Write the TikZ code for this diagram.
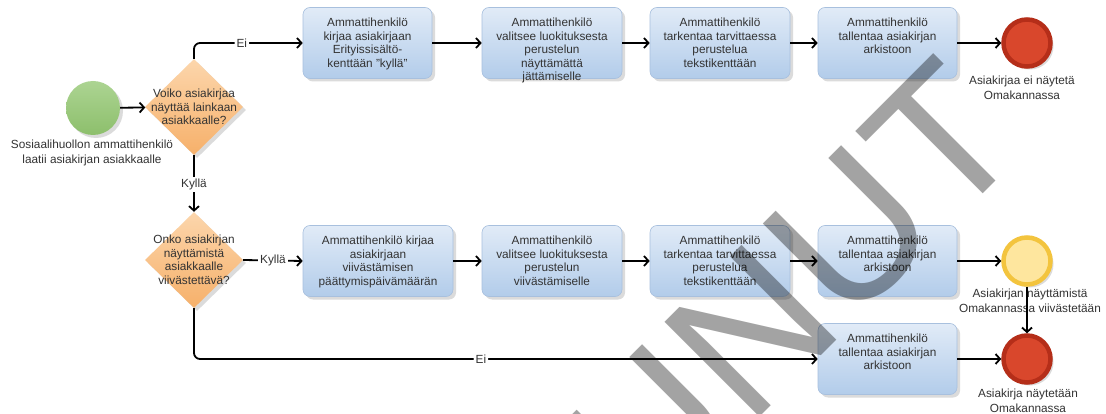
\documentclass[tikz,border=0pt]{standalone}
\usepackage{fontspec}
\setmainfont{Liberation Sans}
\usetikzlibrary{arrows.meta,shapes.geometric,shadows}

\definecolor{taskTop}{HTML}{E1EBF7}
\definecolor{taskBot}{HTML}{B2CCEA}
\definecolor{taskLine}{HTML}{A8C0DE}
\definecolor{gwTop}{HTML}{FCD6AC}
\definecolor{gwBot}{HTML}{F6B06A}
\definecolor{txt}{HTML}{333333}
\definecolor{startTop}{HTML}{ACD492}
\definecolor{startBot}{HTML}{8DBF6C}
\definecolor{endFill}{HTML}{D9472C}
\definecolor{endRing}{HTML}{B52E19}
\definecolor{waitFill}{HTML}{FEE69E}
\definecolor{waitRing}{HTML}{F3C43E}

\tikzset{
  shade box/.style={drop shadow={shadow xshift=3pt,shadow yshift=-3pt,fill=black!28}},
  tasknode/.style={rectangle, rounded corners=7pt, minimum height=71pt, inner sep=0pt,
    draw=taskLine, line width=0.6pt, top color=taskTop, bottom color=taskBot, shade box},
  tasktext/.style={anchor=north, align=center, inner sep=0pt, text=txt,
    font=\fontsize{11.8}{13.5}\selectfont},
  gateway/.style={diamond, minimum width=98pt, minimum height=96pt, inner sep=0pt,
    top color=gwTop, bottom color=gwBot, shade box},
  gwtext/.style={align=center, inner sep=0pt, text=txt,
    font=\fontsize{11.8}{13.5}\selectfont},
  startev/.style={circle, minimum size=54pt, inner sep=0pt,
    top color=startTop, bottom color=startBot, shade box},
  endev/.style={circle, minimum size=47pt, inner sep=0pt, line width=4.5pt,
    draw=endRing, fill=endFill, shade box},
  waitev/.style={circle, minimum size=47pt, inner sep=0pt, line width=4.5pt,
    draw=waitRing, fill=waitFill, shade box},
  evtext/.style={anchor=north, align=center, inner sep=0pt, text=txt,
    font=\fontsize{11.8}{14.5}\selectfont},
  flow/.style={draw=black, line width=1.8pt, -{Straight Barb[length=4.5pt,width=10pt]}},
  lbl/.style={fill=white, inner sep=2pt, text=txt, font=\fontsize{11.8}{13.5}\selectfont},
}

\begin{document}
\begin{tikzpicture}[x=1pt,y=-1pt]
\useasboundingbox (0,0) rectangle (1106,414);
\fill[white] (0,0) rectangle (1106,414);

% start event and decisions
\node[startev] (s) at (93,108) {};
\node[evtext] (sx) at (92,140) {Sosiaalihuollon ammattihenkilö\\laatii asiakirjan asiakkaalle};
\node[gateway] (g1) at (194,107) {};
\node[gwtext] (g1x) at (g1) {Voiko asiakirjaa\\näyttää lainkaan\\asiakkaalle?};
\node[gateway] (g2) at (194,260) {};
\node[gwtext] (g2x) at (g2) {Onko asiakirjan\\näyttämistä\\asiakkaalle\\viivästettävä?};

% upper row: document is not shown
\node[tasknode, minimum width=129pt] (t1) at (367.5,43) {};
\node[tasktext] (t1x) at ([yshift=-11pt]t1.north) {Ammattihenkilö\\kirjaa asiakirjaan\\Erityissisältö-\\kenttään "kyllä"};
\node[tasknode, minimum width=140pt] (t2) at (552,43) {};
\node[tasktext] (t2x) at ([yshift=-11pt]t2.north) {Ammattihenkilö\\valitsee luokituksesta\\perustelun\\näyttämättä\\jättämiselle};
\node[tasknode, minimum width=140pt] (t3) at (720,43) {};
\node[tasktext] (t3x) at ([yshift=-11pt]t3.north) {Ammattihenkilö\\tarkentaa tarvittaessa\\perustelua\\tekstikenttään};
\node[tasknode, minimum width=139pt] (t4) at (887.5,43) {};
\node[tasktext] (t4x) at ([yshift=-11pt]t4.north) {Ammattihenkilö\\tallentaa asiakirjan\\arkistoon};
\node[endev] (e1) at (1027,43) {};
\node[evtext] (e1x) at (1022,76) {Asiakirjaa ei näytetä\\Omakannassa};

% middle row: showing is delayed
\node[tasknode, minimum width=150pt] (m1) at (378,261) {};
\node[tasktext] (m1x) at ([yshift=-11pt]m1.north) {Ammattihenkilö kirjaa\\asiakirjaan\\viivästämisen\\päättymispäivämäärän};
\node[tasknode, minimum width=140pt] (m2) at (552,261) {};
\node[tasktext] (m2x) at ([yshift=-11pt]m2.north) {Ammattihenkilö\\valitsee luokituksesta\\perustelun\\viivästämiselle};
\node[tasknode, minimum width=140pt] (m3) at (720,261) {};
\node[tasktext] (m3x) at ([yshift=-11pt]m3.north) {Ammattihenkilö\\tarkentaa tarvittaessa\\perustelua\\tekstikenttään};
\node[tasknode, minimum width=139pt] (m4) at (887.5,261) {};
\node[tasktext] (m4x) at ([yshift=-11pt]m4.north) {Ammattihenkilö\\tallentaa asiakirjan\\arkistoon};
\node[waitev] (e2) at (1027,261) {};
\node[evtext] (e2x) at (1030,289) {Asiakirjan näyttämistä\\Omakannassa viivästetään};

% lower row: document is shown
\node[tasknode, minimum width=139pt] (b1) at (887.5,359) {};
\node[tasktext] (b1x) at ([yshift=-11pt]b1.north) {Ammattihenkilö\\tallentaa asiakirjan\\arkistoon};
\node[endev] (e3) at (1027,359) {};
\node[evtext] (e3x) at (1028,389) {Asiakirja näytetään\\Omakannassa};

% sequence flows
\draw[flow] (s) -- (g1);
\draw[flow, rounded corners=6pt] (g1.north) |- node[lbl, pos=0.72] (l1) {Ei} (t1.west);
\draw[flow] (g1.south) -- node[lbl, pos=0.52] (l2) {Kyllä} (g2.north);
\draw[flow] (g2.east) -- node[lbl] (l3) {Kyllä} (m1.west);
\draw[flow, rounded corners=6pt] (g2.south) |- node[lbl, pos=0.73] (l4) {Ei} (b1.west);
\draw[flow] (t1) -- (t2);
\draw[flow] (t2) -- (t3);
\draw[flow] (t3) -- (t4);
\draw[flow] (t4) -- (e1);
\draw[flow] (m1) -- (m2);
\draw[flow] (m2) -- (m3);
\draw[flow] (m3) -- (m4);
\draw[flow] (m4) -- (e2);
\draw[flow] (b1) -- (e3);
\draw[flow] (e2) -- (e3);

% watermark
\begin{scope}
\clip (0,0) rectangle (1106,414);
\node[rotate=45, anchor=base east, inner sep=0pt, text=black, text opacity=0.36,
  font=\fontsize{195}{195}\selectfont] (wm) at (1032,145) {VANHENTUNUT};
\end{scope}
\end{tikzpicture}
\end{document}
